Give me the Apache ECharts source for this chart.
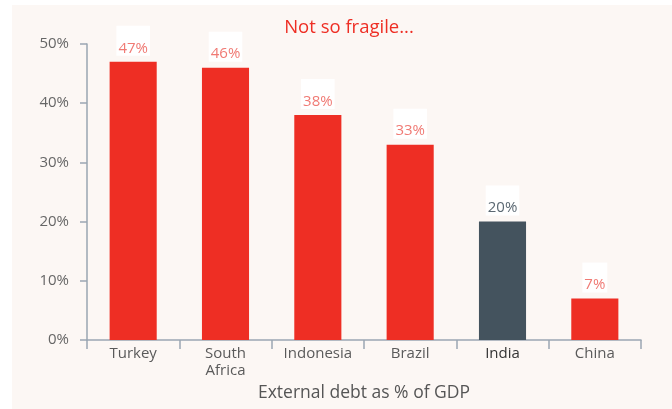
<!DOCTYPE html>
<html>
<head>
<meta charset="utf-8">
<script src="https://cdn.jsdelivr.net/npm/echarts@6/dist/echarts.min.js"></script>
<style>
  html, body { margin: 0; padding: 0; background: #ffffff; }
  #chart { width: 672px; height: 409px; }
</style>
</head>
<body>
<div id="chart"></div>
<script>
// External debt as a share of GDP, by country
const categories = ['Turkey', 'South\nAfrica', 'Indonesia', 'Brazil', 'India', 'China'];
const debtShare = [47, 46, 38, 33, 20, 7];
const highlight = 'India';
const yTicks = [0, 10, 20, 30, 40, 50];

const RED = '#ee2e24';
const SLATE = '#44535e';
const FONT = '"Open Sans", Lato, sans-serif';

const chart = echarts.init(document.getElementById('chart'), null, { renderer: 'canvas' });

const barData = debtShare.map((v, i) => {
  const isHi = categories[i] === highlight;
  return {
    value: v,
    itemStyle: { color: isHi ? SLATE : RED },
    label: { color: isHi ? '#5b6872' : '#f07a74' }
  };
});

chart.setOption({
  backgroundColor: '#ffffff',
  animation: false,
  graphic: [{
    type: 'rect',
    z: -10,
    shape: { x: 12, y: 5, width: 660, height: 404 },
    style: { fill: '#fcf7f4' }
  }],
  title: {
    text: 'Not so fragile...',
    left: 344,
    top: 13,
    textAlign: 'center',
    textStyle: { color: RED, fontSize: 18.5, fontWeight: 'normal', fontFamily: FONT }
  },
  grid: { left: 87, right: 31, top: 44, bottom: 69 },
  xAxis: {
    type: 'category',
    data: categories,
    name: 'External debt as % of GDP',
    nameLocation: 'middle',
    nameGap: 41,
    nameTextStyle: { color: '#555555', fontSize: 17.5, fontFamily: FONT },
    axisLine: { lineStyle: { color: '#9aa6b2', width: 1.5 } },
    axisTick: { show: true, length: 9, alignWithLabel: false, lineStyle: { color: '#9aa6b2', width: 1.5 } },
    axisLabel: {
      margin: 5,
      fontSize: 15,
      lineHeight: 17,
      fontFamily: FONT,
      color: (val) => val === highlight ? '#333333' : '#5a5a5a'
    }
  },
  yAxis: {
    type: 'value',
    min: yTicks[0],
    max: yTicks[yTicks.length - 1],
    interval: 10,
    splitLine: { show: false },
    axisLine: { show: true, lineStyle: { color: '#9aa6b2', width: 1.5 } },
    axisTick: { show: true, length: 7, lineStyle: { color: '#9aa6b2', width: 1.5 } },
    axisLabel: {
      margin: 18,
      fontSize: 15,
      fontFamily: FONT,
      color: '#666666',
      formatter: '{value}%'
    }
  },
  series: [{
    type: 'bar',
    data: barData,
    barWidth: '51%',
    label: {
      show: true,
      position: 'top',
      distance: 6,
      formatter: '{c}%',
      fontSize: 15,
      fontFamily: FONT,
      backgroundColor: '#ffffff',
      padding: [15, 2, 0, 2]
    }
  }]
});
</script>
</body>
</html>
